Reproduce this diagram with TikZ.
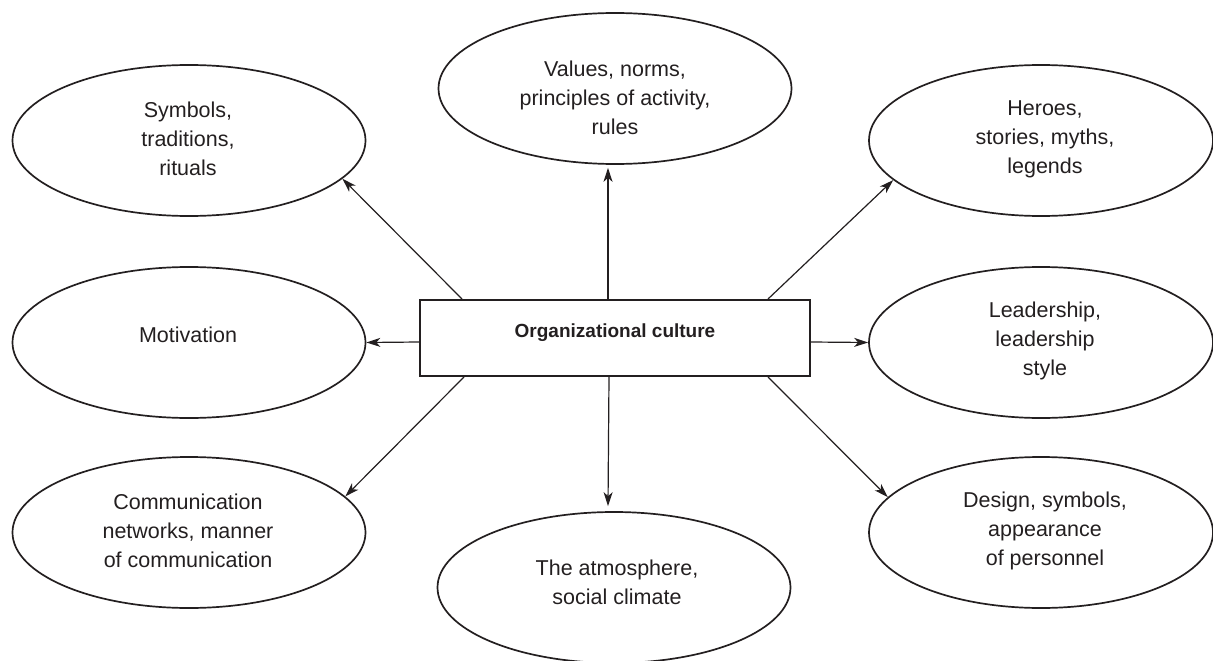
\documentclass[tikz,border=0pt]{standalone}
\usepackage{fontspec}
\setmainfont{Liberation Sans}
\usetikzlibrary{shapes.geometric,arrows.meta}
\definecolor{ink}{HTML}{231F20}
\tikzset{
  ell/.style={ellipse, draw=ink, line width=1.7pt, inner sep=0pt, minimum width=353pt, minimum height=151pt},
  ellr/.style={ell, minimum width=344pt},
  txt/.style={text=ink, align=center, font=\fontsize{21.5pt}{29pt}\selectfont, inner sep=0pt},
  core/.style={draw=ink, line width=2pt, minimum width=390pt, minimum height=76pt, inner sep=0pt},
  arr/.style={draw=ink, line width=1.2pt, -{Stealth[length=14pt,width=9pt,inset=4pt]}}
}
\begin{document}
\begin{tikzpicture}[x=1pt,y=-1pt]
\useasboundingbox (0,0) rectangle (1213,661);
% ellipses
\node[ell]  (e1) at (189,140.5) {};
\node[ell]  (e2) at (615,88.5) {};
\node[ellr] (e3) at (1041,140.5) {};
\node[ell]  (e4) at (189,342.5) {};
\node[ellr] (e5) at (1041,342.5) {};
\node[ell]  (e6) at (189,532.5) {};
\node[ellr] (e7) at (1041,532.5) {};
\node[ell]  (e8) at (614,587.5) {};
% texts
\node[txt] (t1) at (188,139) {Symbols,\\traditions,\\rituals};
\node[txt] (t2) at (615,97.5) {Values, norms,\\principles of activity,\\rules};
\node[txt] (t3) at (1045,139) {Heroes,\\stories, myths,\\legends};
\node[txt] (t4) at (188,335) {Motivation};
\node[txt] (t5) at (1045,341) {Leadership,\\leadership\\style};
\node[txt] (t6) at (188,531) {Communication\\networks, manner\\of communication};
\node[txt] (t7) at (1045,531) {Design, symbols,\\appearance\\of personnel};
\node[txt] (t8) at (617,582.5) {The atmosphere,\\social climate};
% centre
\node[core] (r) at (615,338) {};
\node[txt, font=\fontsize{19pt}{24pt}\selectfont\bfseries] (rt) at (615,333) {Organizational culture};
% arrows
\draw[arr] ([xshift=43pt]r.north west) -- (e1.-14);
\draw[arr] ([xshift=-7pt]r.north) -- ([xshift=-7pt,yshift=-3pt]e2.south);
\draw[arr] ([xshift=-43pt]r.north east) -- (e3.195);
\draw[arr] ([yshift=-4pt]r.west) -- (e4.east);
\draw[arr] ([yshift=-4pt]r.east) -- (e5.west);
\draw[arr] ([xshift=45pt]r.south west) -- (e6.13);
\draw[arr] ([xshift=-43pt]r.south east) -- (e7.167);
\draw[arr] ([xshift=-6pt]r.south) -- ([xshift=-6pt,yshift=5pt]e8.north);
\end{tikzpicture}
\end{document}
